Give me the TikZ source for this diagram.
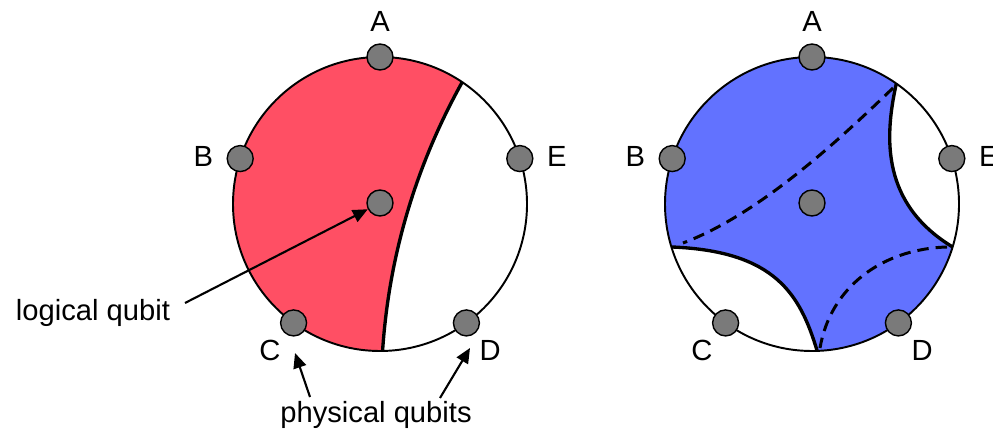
\documentclass[tikz,border=0pt]{standalone}
\usepackage{fontspec}
\setmainfont{Liberation Sans}
\usetikzlibrary{arrows.meta,calc}
\definecolor{qubitred}{HTML}{FF4F64}
\definecolor{qubitblue}{HTML}{6272FF}
\definecolor{qubitgray}{HTML}{7A7A7A}
\tikzset{
  qdot/.style={circle, draw=black, fill=qubitgray, line width=.8pt,
    minimum size=.52cm, inner sep=0pt},
  qlabel/.style={font=\fontsize{16.6}{20}\selectfont, text=black, inner sep=1pt},
  rim/.style={draw=black, line width=1.1pt},
  cutline/.style={draw=black, line width=1.9pt},
  dualcut/.style={draw=black, line width=1.7pt, dash pattern=on 6.5pt off 4pt},
  pointer/.style={-{Triangle[length=3mm, width=2.6mm]}, draw=black, line width=1.2pt}
}

\begin{document}
\begin{tikzpicture}[x=0.02cm,y=0.02cm]
  \useasboundingbox (0,0) rectangle (993,439);
  \coordinate (L) at (380,235);
  \coordinate (R) at (812,235);

  % left: one logical qubit surface
  \coordinate (Ltop) at ($(L)+(56:147)$);
  \coordinate (Lbot) at ($(L)+(271:147)$);
  \fill[qubitred] (Ltop) arc[start angle=56, end angle=271, radius=147]
    .. controls (390,200) and (425,290) .. (Ltop) -- cycle;

  % right: surface with two cuts
  \coordinate (R1) at ($(R)+(55:147)$);
  \coordinate (R2) at ($(R)+(-17:147)$);
  \coordinate (R3) at ($(R)+(-88:147)$);
  \coordinate (R4) at ($(R)+(197:147)$);
  \fill[qubitblue] (R4) arc[start angle=197, end angle=55, radius=147]
    .. controls (884,300) and (882,235) .. (R2)
    arc[start angle=-17, end angle=-88, radius=147]
    .. controls (800,145) and (775,188) .. (R4) -- cycle;

  \draw[rim] (L) circle[radius=147];
  \draw[rim] (R) circle[radius=147];
  \draw[cutline] (Lbot) .. controls (390,200) and (425,290) .. (Ltop);
  \draw[cutline] (R1) .. controls (884,300) and (882,235) .. (R2);
  \draw[cutline] (R3) .. controls (800,145) and (775,188) .. (R4);
  \draw[dualcut] (893,351) .. controls (840,300) and (760,225) .. (683,196);
  \draw[dualcut] (947,192) .. controls (880,190) and (830,150) .. (820,91);

  \foreach \c in {L,R} {
    \foreach \n/\a/\b in {A/90/90, B/162/165, C/234/233, D/306/307, E/18/15} {
      \node[qdot] (\c\n) at ($(\c)+(\a:147)$) {};
      \node[qlabel] (\c\n lab) at ($(\c)+(\b:183)$) {\n};
    }
    \node[qdot] (\c c) at ($(\c)+(0,1)$) {};
  }

  \node[qlabel] (logical) at (93,126) {logical qubit};
  \node[qlabel] (physical) at (376,24) {physical qubits};
  \coordinate (logicalfrom) at (185,136);
  \coordinate (physfromC) at (310,42);
  \coordinate (physfromD) at (440,41);
  \coordinate (tipC) at (295,86);
  \coordinate (tipD) at (470,91);
  \draw[pointer] (logicalfrom) -- (Lc);
  \draw[pointer] (physfromC) -- (tipC);
  \draw[pointer] (physfromD) -- (tipD);
\end{tikzpicture}
\end{document}
